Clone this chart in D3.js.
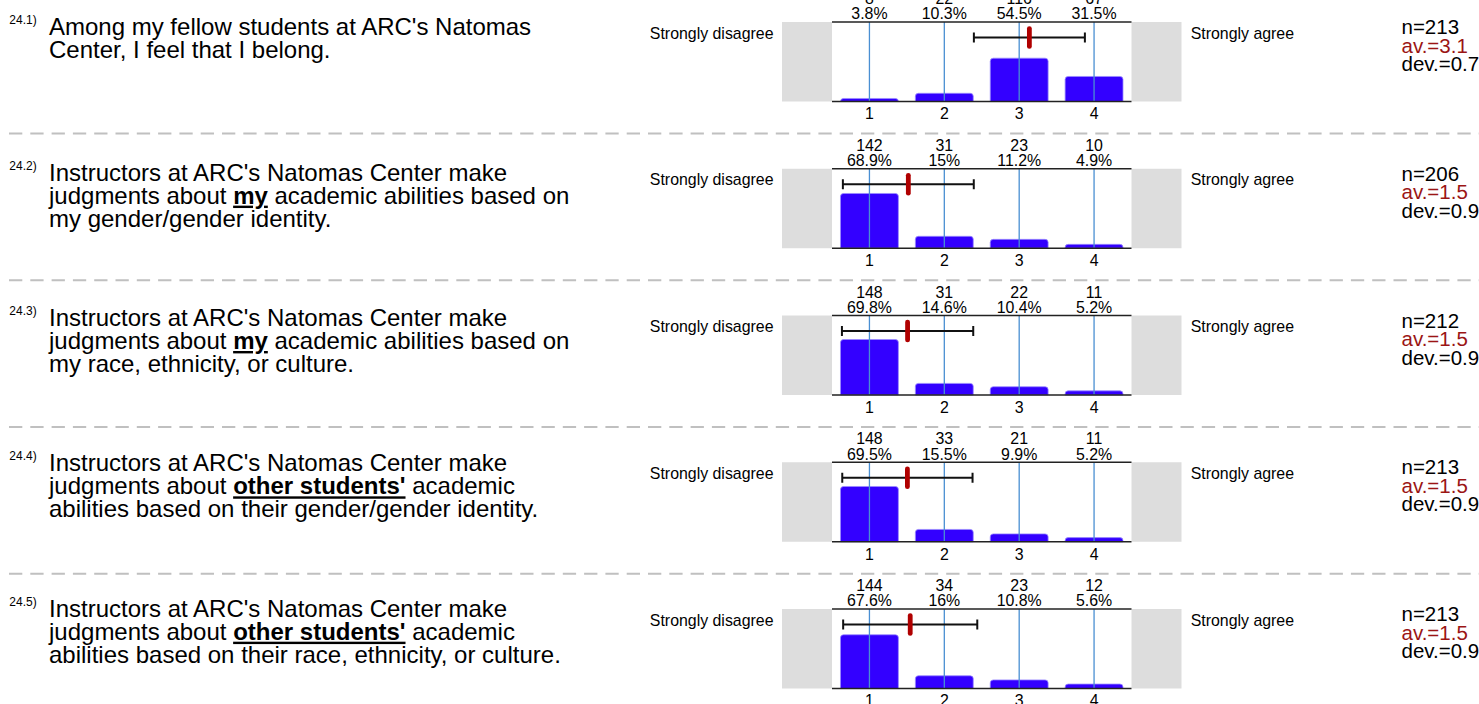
<!DOCTYPE html>
<html>
<head>
<meta charset="utf-8">
<script src="https://cdn.jsdelivr.net/npm/d3@7"></script>
<style>
  html, body { margin: 0; padding: 0; background: #ffffff; overflow: hidden; }
  svg { display: block; font-family: "Liberation Sans", Arial, sans-serif; }
</style>
</head>
<body>
<svg id="chart" width="1479" height="704"></svg>
<script>
// ---------------- data ----------------
const questionNumbers = ["24.1)", "24.2)", "24.3)", "24.4)", "24.5)"];
const questionLines = [
  ["Among my fellow students at ARC's Natomas", "Center, I feel that I belong."],
  ["Instructors at ARC's Natomas Center make", "judgments about **my** academic abilities based on", "my gender/gender identity."],
  ["Instructors at ARC's Natomas Center make", "judgments about **my** academic abilities based on", "my race, ethnicity, or culture."],
  ["Instructors at ARC's Natomas Center make", "judgments about **other students'** academic", "abilities based on their gender/gender identity."],
  ["Instructors at ARC's Natomas Center make", "judgments about **other students'** academic", "abilities based on their race, ethnicity, or culture."]
];
const categories = ["1", "2", "3", "4"];
const scaleValues = [1, 2, 3, 4];
const counts = [
  [8, 22, 116, 67],
  [142, 31, 23, 10],
  [148, 31, 22, 11],
  [148, 33, 21, 11],
  [144, 34, 23, 12]
];
const percents = [
  [3.8, 10.3, 54.5, 31.5],
  [68.9, 15, 11.2, 4.9],
  [69.8, 14.6, 10.4, 5.2],
  [69.5, 15.5, 9.9, 5.2],
  [67.6, 16, 10.8, 5.6]
];
const nValues = [213, 206, 212, 213, 213];
const avLabels = ["3.1", "1.5", "1.5", "1.5", "1.5"];
const devLabels = ["0.7", "0.9", "0.9", "0.9", "0.9"];
const leftPole = "Strongly disagree";
const rightPole = "Strongly agree";

// ---------------- layout ----------------
const svg = d3.select("#chart");
const W = 1479;
const rowStep = 146.75;
const firstTop = 22;
const panelH = 79.5;
const px0 = 832, px1 = 1131.5;
const grayW = 50;

const x = d3.scaleBand().domain(categories).range([px0, px1]).paddingInner(0.227).paddingOuter(0.1135);
const xMean = d3.scaleLinear().domain([1, 4]).range([x("1") + x.bandwidth() / 2, x("4") + x.bandwidth() / 2]);
const y = d3.scaleLinear().domain([0, 100]).range([panelH, 0]);

const BAR = "#3300ff", VLINE = "#4a8fd2", MEAN = "#b00000", GRAY = "#dddddd";

// separators
for (let i = 1; i < counts.length; i++) {
  const sy = firstTop + i * rowStep - 35.3;
  svg.append("line").attr("x1", 9).attr("x2", W).attr("y1", sy).attr("y2", sy)
    .attr("stroke", "#c0c0c0").attr("stroke-width", 2).attr("stroke-dasharray", "13.3,8");
}

// question texts
questionLines.forEach((lines, i) => {
  const base = 35.3 + i * 145.35;
  svg.append("text").attr("x", 9.3).attr("y", base - 11).attr("font-size", 12).attr("fill", "#000").text(questionNumbers[i]);
  lines.forEach((line, li) => {
    const t = svg.append("text").attr("x", 49).attr("y", base + li * 23).attr("font-size", 24).attr("fill", "#000");
    line.split(/(\*\*[^*]+\*\*)/).filter(s => s.length).forEach(seg => {
      if (seg.startsWith("**")) {
        t.append("tspan").attr("font-weight", "bold").attr("text-decoration", "underline").text(seg.slice(2, -2));
      } else {
        t.append("tspan").text(seg);
      }
    });
  });
});

counts.forEach((cnt, i) => {
  const top = firstTop + i * rowStep;
  const g = svg.append("g").attr("transform", `translate(0,${top})`);

  // gray side boxes
  g.append("rect").attr("x", px0 - grayW).attr("y", 0).attr("width", grayW).attr("height", panelH).attr("fill", GRAY);
  g.append("rect").attr("x", px1).attr("y", 0).attr("width", grayW).attr("height", panelH).attr("fill", GRAY);

  // pole labels
  g.append("text").attr("x", 773.5).attr("y", 16.5).attr("text-anchor", "end").attr("font-size", 15.9).text(leftPole);
  g.append("text").attr("x", 1190.7).attr("y", 16.5).attr("font-size", 15.9).text(rightPole);

  // bars (rounded top corners)
  const r = 3;
  g.selectAll("path.bar").data(cnt.map((c, k) => ({ cat: categories[k], pct: percents[i][k] })))
    .join("path").attr("class", "bar")
    .attr("d", d => {
      const x0 = x(d.cat), w = x.bandwidth(), y0 = y(d.pct), yb = y(0);
      const rr = Math.min(r, (yb - y0));
      return `M${x0},${yb} L${x0},${y0 + rr} Q${x0},${y0} ${x0 + rr},${y0} L${x0 + w - rr},${y0} Q${x0 + w},${y0} ${x0 + w},${y0 + rr} L${x0 + w},${yb} Z`;
    })
    .attr("fill", BAR).attr("stroke", "#9a8cff").attr("stroke-width", 0.8);

  // vertical category lines
  g.selectAll("line.vl").data(categories).join("line").attr("class", "vl")
    .attr("x1", d => x(d) + x.bandwidth() / 2).attr("x2", d => x(d) + x.bandwidth() / 2)
    .attr("y1", 0).attr("y2", panelH).attr("stroke", VLINE).attr("stroke-width", 1.3);

  // top frame line
  g.append("line").attr("x1", px0).attr("x2", px1).attr("y1", 0).attr("y2", 0).attr("stroke", "#222").attr("stroke-width", 1.6);

  // bottom axis
  const axis = d3.axisBottom(x).tickSize(0).tickPadding(6.5);
  const ag = g.append("g").attr("transform", `translate(0,${panelH})`).call(axis);
  ag.select(".domain").attr("stroke", "#222").attr("stroke-width", 1.6).attr("d", `M${px0},0H${px1}`);
  ag.selectAll("text").attr("font-size", 15.9).attr("font-family", "Liberation Sans, Arial, sans-serif").attr("fill", "#000");

  // count and percent labels
  g.selectAll("text.cnt").data(categories).join("text").attr("class", "cnt")
    .attr("x", d => x(d) + x.bandwidth() / 2).attr("y", -18).attr("text-anchor", "middle").attr("font-size", 15.9)
    .text((d, k) => cnt[k]);
  g.selectAll("text.pct").data(categories).join("text").attr("class", "pct")
    .attr("x", d => x(d) + x.bandwidth() / 2).attr("y", -2.7).attr("text-anchor", "middle").attr("font-size", 15.9)
    .text((d, k) => percents[i][k] + "%");

  // mean and standard deviation
  const n = d3.sum(cnt);
  const mean = d3.sum(cnt, (c, k) => c * scaleValues[k]) / n;
  const sd = Math.sqrt(d3.sum(cnt, (c, k) => c * (scaleValues[k] - mean) ** 2) / n);
  const ey = 15.5;
  g.append("line").attr("x1", xMean(mean - sd)).attr("x2", xMean(mean + sd)).attr("y1", ey).attr("y2", ey)
    .attr("stroke", "#111").attr("stroke-width", 2);
  [mean - sd, mean + sd].forEach(v => {
    g.append("line").attr("x1", xMean(v)).attr("x2", xMean(v)).attr("y1", ey - 5).attr("y2", ey + 5)
      .attr("stroke", "#111").attr("stroke-width", 2);
  });
  g.append("rect").attr("x", xMean(mean) - 2.4).attr("y", ey - 11.3).attr("width", 4.8).attr("height", 22.6)
    .attr("rx", 2.4).attr("fill", MEAN);

  // stats
  const st = g.append("text").attr("x", 1401.5).attr("font-size", 20.5);
  st.append("tspan").attr("x", 1401.5).attr("y", 12).attr("fill", "#000").text("n=" + nValues[i]);
  st.append("tspan").attr("x", 1401.5).attr("y", 30.5).attr("fill", "#9b1515").text("av.=" + avLabels[i]);
  st.append("tspan").attr("x", 1401.5).attr("y", 49).attr("fill", "#000").text("dev.=" + devLabels[i]);
});
</script>
</body>
</html>
